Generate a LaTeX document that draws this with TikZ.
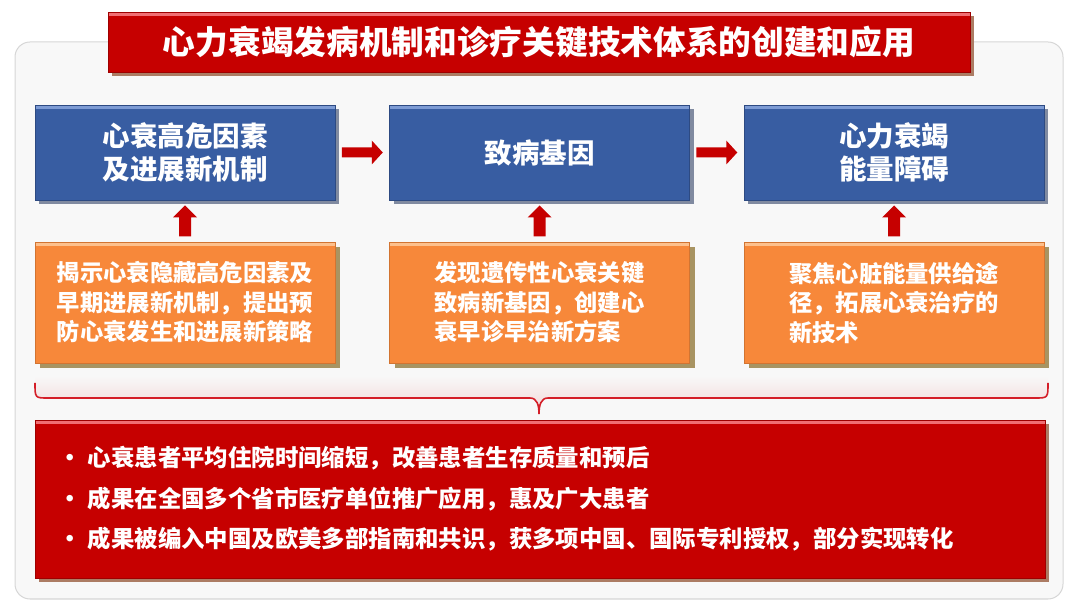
\documentclass[tikz,border=0pt]{standalone}
\usepackage{fontspec}
\newfontfamily\cjk{Noto Sans CJK SC}
\usetikzlibrary{shadows}

\definecolor{hfred}{RGB}{198,0,0}
\definecolor{hfredlight}{RGB}{240,110,115}
\definecolor{hfredshadow}{RGB}{172,124,100}
\definecolor{hfblue}{RGB}{56,93,162}
\definecolor{hfbluelight}{RGB}{125,155,212}
\definecolor{hfblueshadow}{RGB}{128,138,160}
\definecolor{hforange}{RGB}{247,136,58}
\definecolor{hforangelight}{RGB}{253,192,140}
\definecolor{hforangeshadow}{RGB}{168,148,98}
\definecolor{framebg}{RGB}{248,248,248}
\definecolor{frameline}{RGB}{214,214,214}
\definecolor{bracered}{RGB}{212,30,40}
\definecolor{bracepink}{RGB}{242,214,214}

\newcommand\bul{\makebox[36pt][c]{•}}

\begin{document}
\begin{tikzpicture}[x=1pt,y=-1pt,
  box/.style={inner sep=0pt, text=white, align=center, line width=0.8pt},
  bevel/.style={path picture={
    \fill[#1] (path picture bounding box.north west)
      rectangle ([yshift=-4pt]path picture bounding box.north east);}},
  titlebox/.style={box, fill=hfred, draw=hfred!80!black, bevel=hfredlight,
    minimum width=862pt, minimum height=60pt,
    font=\cjk\bfseries\fontsize{32.7}{36}\selectfont,
    drop shadow={shadow xshift=4pt, shadow yshift=-4pt, fill=hfredshadow, opacity=1}},
  bluebox/.style={box, fill=hfblue, draw=hfblue!80!black, bevel=hfbluelight,
    minimum width=300pt, minimum height=95pt,
    font=\cjk\bfseries\fontsize{27.5}{33}\selectfont,
    drop shadow={shadow xshift=4pt, shadow yshift=-4pt, fill=hfblueshadow, opacity=1}},
  orangebox/.style={box, fill=hforange, draw=hforange!85!black, bevel=hforangelight,
    minimum width=300pt, minimum height=121pt, align=left,
    font=\cjk\bfseries\fontsize{23.3}{29.5}\selectfont,
    drop shadow={shadow xshift=5pt, shadow yshift=-5pt, fill=hforangeshadow, opacity=1}},
  resultbox/.style={box, fill=hfred, draw=hfred!80!black, bevel=hfredlight,
    minimum width=1010pt, minimum height=158pt, text width=976pt, inner xsep=17pt,
    align=left, font=\cjk\bfseries\fontsize{23.4}{40.5}\selectfont,
    drop shadow={shadow xshift=4pt, shadow yshift=-4pt, fill=hfredshadow, opacity=1}},
  hfright/.pic={\fill[hfred] (-20.5,-5) -- (9.5,-5) -- (9.5,-12) -- (20.5,0)
    -- (9.5,12) -- (9.5,5) -- (-20.5,5) -- cycle;},
  hfup/.pic={\fill[hfred] (-6,15.5) -- (-6,-3.5) -- (-12,-3.5) -- (0,-15.5)
    -- (12,-3.5) -- (6,-3.5) -- (6,15.5) -- cycle;}]
\useasboundingbox (0,0) rectangle (1080,609);

% frame
\draw[frameline, fill=framebg, rounded corners=15pt, line width=1pt] (15,42) rectangle (1063,599);

% title
\node[titlebox] (title) at (539,42) {心力衰竭发病机制和诊疗关键技术体系的创建和应用};

% top row
\node[bluebox] (risk) at (185,152.5) {心衰高危因素\\及进展新机制};
\node[bluebox] (gene) at (539.5,152.5) {致病基因};
\node[bluebox] (energy) at (894,152.5) {心力衰竭\\能量障碍};

% findings
\node[orangebox] (find1) at (185,302.5) {揭示心衰隐藏高危因素及\\早期进展新机制，提出预\\防心衰发生和进展新策略};
\node[orangebox] (find2) at (539.5,302.5) {发现遗传性心衰关键\\致病新基因，创建心\\衰早诊早治新方案};
\node[orangebox] (find3) at (894,302.5) {聚焦心脏能量供给途\\径，拓展心衰治疗的\\新技术};

% arrows
\path (risk.east) -- (gene.west) coordinate[midway] (ar1);
\path (gene.east) -- (energy.west) coordinate[midway] (ar2);
\path (find1.north) -- (risk.south) coordinate[midway] (au1);
\path (find2.north) -- (gene.south) coordinate[midway] (au2);
\path (find3.north) -- (energy.south) coordinate[midway] (au3);
\pic at (ar1) {hfright};
\pic at (ar2) {hfright};
\pic at (au1) {hfup};
\pic at (au2) {hfup};
\pic at (au3) {hfup};

% brace
\shade[top color=framebg, bottom color=bracepink]
  (35,376) -- (35,385) .. controls (35,398) .. (48,398) -- (530,398)
  .. controls (537,398) and (539,405) .. (539,414)
  .. controls (539,405) and (541,398) .. (548,398) -- (1035,398)
  .. controls (1048,398) .. (1048,385) -- (1048,376) -- cycle;
\draw[bracered, line width=1.6pt]
  (35,383) .. controls (35,398) .. (48,398) -- (530,398)
  .. controls (537,398) and (539,405) .. (539,414)
  .. controls (539,405) and (541,398) .. (548,398) -- (1035,398)
  .. controls (1048,398) .. (1048,383);

% results
\node[resultbox] (result) at (540,499) {\bul 心衰患者平均住院时间缩短，改善患者生存质量和预后\\
\bul 成果在全国多个省市医疗单位推广应用，惠及广大患者\\
\bul 成果被编入中国及欧美多部指南和共识，获多项中国、国际专利授权，部分实现转化};
\end{tikzpicture}
\end{document}
